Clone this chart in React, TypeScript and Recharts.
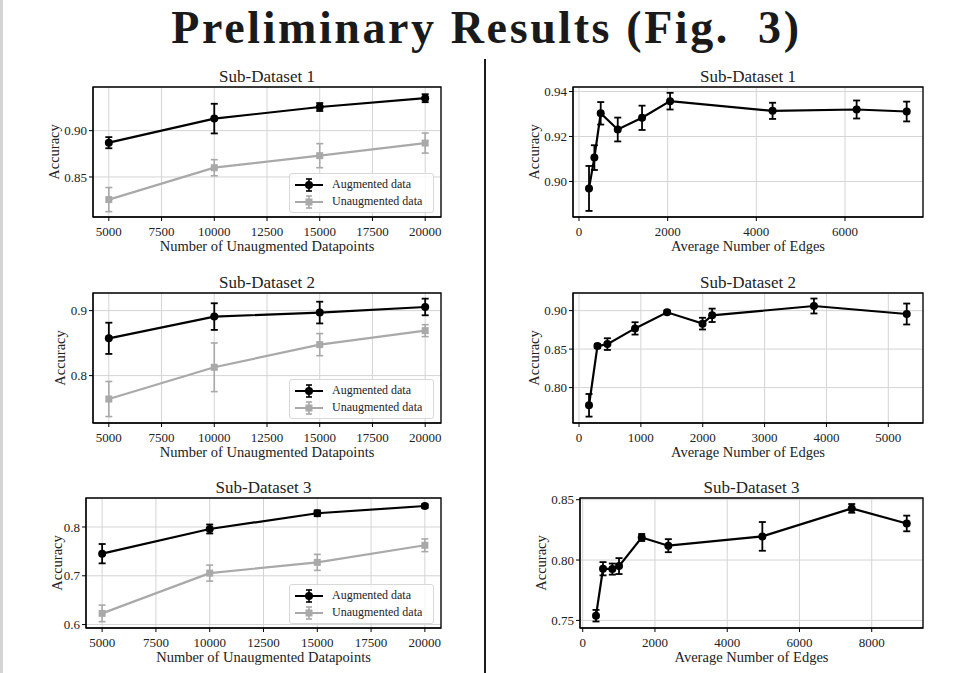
import React from 'react';
import {
  ComposedChart,
  Line,
  XAxis,
  YAxis,
  CartesianGrid,
  ErrorBar,
  ReferenceArea,
  Legend,
} from 'recharts';

// left column: accuracy vs. number of unaugmented datapoints
const sizes = [5000, 10000, 15000, 20000];
const sizeTicks = [5000, 7500, 10000, 12500, 15000, 17500, 20000];

const aug1 = [0.887, 0.913, 0.9255, 0.935];
const aug1Err = [0.006, 0.016, 0.0043, 0.0043];
const unaug1 = [0.8256, 0.86, 0.873, 0.8866];
const unaug1Err = [0.013, 0.0087, 0.013, 0.0108];

const aug2 = [0.8574, 0.8908, 0.897, 0.9056];
const aug2Err = [0.024, 0.0205, 0.0167, 0.0128];
const unaug2 = [0.764, 0.8128, 0.8477, 0.8692];
const unaug2Err = [0.027, 0.0374, 0.017, 0.0092];

const aug3 = [0.7453, 0.7959, 0.8281, 0.843];
const aug3Err = [0.0198, 0.0092, 0.006, 0.004];
const unaug3 = [0.623, 0.7055, 0.7275, 0.7625];
const unaug3Err = [0.017, 0.0164, 0.0164, 0.013];

// right column: accuracy vs. average number of edges
const edges1 = [226, 347, 490, 874, 1422, 2054, 4366, 6262, 7391];
const acc1 = [0.8969, 0.9106, 0.9303, 0.9231, 0.9283, 0.9357, 0.9314, 0.932, 0.9311];
const acc1Err = [0.01, 0.0055, 0.005, 0.0053, 0.0054, 0.0037, 0.0036, 0.004, 0.0044];

const edges2 = [162, 298, 459, 906, 1424, 1997, 2152, 3798, 5298];
const acc2 = [0.777, 0.8539, 0.8565, 0.8769, 0.8978, 0.8831, 0.8939, 0.906, 0.8956];
const acc2Err = [0.0147, 0.0026, 0.0076, 0.008, 0.0024, 0.0076, 0.0087, 0.0097, 0.0136];

const edges3 = [368, 562, 820, 1005, 1633, 2370, 4972, 7446, 8969];
const acc3 = [0.7539, 0.7928, 0.7925, 0.795, 0.8187, 0.8119, 0.8196, 0.8428, 0.8303];
const acc3Err = [0.0048, 0.0055, 0.0046, 0.0066, 0.0029, 0.0054, 0.0119, 0.0036, 0.0065];

const FONT = '"Liberation Serif", "DejaVu Serif", serif';
const GRAY = '#a9a9a9';
const TEXT = '#222';

const YW = 60;
const XH = 42;
const MT = 12;
const MR = 4;

type Row = Record<string, number>;

const sizeRows = (a: number[], ae: number[], u: number[], ue: number[]): Row[] =>
  sizes.map((s, i) => ({ x: s, aug: a[i], augErr: ae[i], unaug: u[i], unaugErr: ue[i] }));

const edgeRows = (e: number[], a: number[], ae: number[]): Row[] =>
  e.map((v, i) => ({ x: v, acc: a[i], accErr: ae[i] }));

function LegendBox() {
  const row = (gray: boolean, label: string) => {
    const c = gray ? GRAY : '#000';
    return (
      <div style={{ display: 'flex', alignItems: 'center', height: 17 }}>
        <svg width={30} height={14} style={{ marginRight: 8 }}>
          <line x1={1} x2={29} y1={7} y2={7} stroke={c} strokeWidth={2} />
          <line x1={15} x2={15} y1={1} y2={13} stroke={c} strokeWidth={1.6} />
          <line x1={12} x2={18} y1={1} y2={1} stroke={c} strokeWidth={1.6} />
          <line x1={12} x2={18} y1={13} y2={13} stroke={c} strokeWidth={1.6} />
          {gray ? (
            <rect x={11.5} y={3.5} width={7} height={7} fill={c} />
          ) : (
            <circle cx={15} cy={7} r={4} fill={c} />
          )}
        </svg>
        <span style={{ fontSize: 12, color: TEXT, fontFamily: FONT }}>{label}</span>
      </div>
    );
  };
  return (
    <div
      style={{
        width: 139,
        height: 36,
        border: '1px solid #d8d8d8',
        borderRadius: 3,
        background: 'rgba(255,255,255,0.8)',
        padding: '2px 0 0 4px',
      }}
    >
      {row(false, 'Augmented data')}
      {row(true, 'Unaugmented data')}
    </div>
  );
}

interface PanelProps {
  x: number;
  y: number;
  w: number;
  h: number;
  data: Row[];
  xDomain: [number, number];
  yDomain: [number, number];
  xTicks: number[];
  yTicks: number[];
  yDec: number;
  title: string;
  xLabel: string;
  yLabelGap: number;
  twoSeries: boolean;
}

function Panel(p: PanelProps) {
  const tick = { fill: TEXT, fontSize: 13, fontFamily: FONT };
  return (
    <>
      <div
        style={{
          position: 'absolute',
          left: p.x,
          width: p.w,
          top: p.y - 20,
          lineHeight: '20px',
          textAlign: 'center',
          fontSize: 17,
          fontFamily: FONT,
          color: TEXT,
          zIndex: 1,
        }}
      >
        {p.title}
      </div>
      <div style={{ position: 'absolute', left: p.x - YW, top: p.y - MT }}>
        <ComposedChart
          width={YW + p.w + MR}
          height={MT + p.h + XH}
          data={p.data}
          margin={{ top: MT, right: MR, left: 0, bottom: 0 }}
        >
          <CartesianGrid stroke="#d4d4d4" strokeWidth={1} />
          <XAxis
            dataKey="x"
            type="number"
            domain={p.xDomain}
            allowDataOverflow
            ticks={p.xTicks}
            interval={0}
            height={XH}
            tick={tick}
            tickSize={4}
            tickMargin={6}
            tickLine={{ stroke: '#000' }}
            axisLine={{ stroke: '#000' }}
            label={{
              value: p.xLabel,
              position: 'insideBottom',
              offset: 8,
              fill: TEXT,
              fontSize: 14.5,
              fontFamily: FONT,
            }}
          />
          <YAxis
            type="number"
            domain={p.yDomain}
            allowDataOverflow
            ticks={p.yTicks}
            interval={0}
            width={YW}
            tick={tick}
            tickSize={4}
            tickMargin={2}
            tickLine={{ stroke: '#000' }}
            axisLine={{ stroke: '#000' }}
            tickFormatter={(v: number) => v.toFixed(p.yDec)}
            label={{
              value: 'Accuracy',
              angle: -90,
              position: 'insideLeft',
              offset: YW - p.yLabelGap,
              style: { textAnchor: 'middle' },
              fill: TEXT,
              fontSize: 14.5,
              fontFamily: FONT,
            }}
          />
          {p.twoSeries && (
            <Line
              dataKey="unaug"
              stroke={GRAY}
              strokeWidth={2.2}
              isAnimationActive={false}
              dot={(d: any) => (
                <rect key={`s${d.index}`} x={d.cx - 3.5} y={d.cy - 3.5} width={7} height={7} fill={GRAY} />
              )}
            >
              <ErrorBar dataKey="unaugErr" width={3.5} strokeWidth={1.6} stroke={GRAY} direction="y" />
            </Line>
          )}
          <Line
            dataKey={p.twoSeries ? 'aug' : 'acc'}
            stroke="#000"
            strokeWidth={2.2}
            isAnimationActive={false}
            dot={{ r: 4, fill: '#000', stroke: '#000', strokeWidth: 0 }}
          >
            <ErrorBar
              dataKey={p.twoSeries ? 'augErr' : 'accErr'}
              width={3.5}
              strokeWidth={1.8}
              stroke="#000"
              direction="y"
            />
          </Line>
          <ReferenceArea
            x1={p.xDomain[0]}
            x2={p.xDomain[1]}
            y1={p.yDomain[0]}
            y2={p.yDomain[1]}
            fill="none"
            fillOpacity={0}
            stroke="#000"
            strokeWidth={1.3}
          />
          {p.twoSeries && (
            <Legend
              layout="vertical"
              align="center"
              verticalAlign="middle"
              content={() => <LegendBox />}
              wrapperStyle={{ position: 'absolute', left: YW + p.w - 152, top: MT + 86, width: 146, height: 40 }}
            />
          )}
        </ComposedChart>
      </div>
    </>
  );
}

export default function App() {
  const sizeDomain: [number, number] = [4250, 20750];
  return (
    <div
      style={{
        position: 'fixed',
        left: 0,
        top: 0,
        width: 961,
        height: 673,
        background: '#fff',
        overflow: 'hidden',
        fontFamily: FONT,
      }}
    >
      <div style={{ position: 'absolute', left: 0, top: 0, width: 3, height: 673, background: '#d4d4d4' }} />
      <div
        style={{
          position: 'absolute',
          left: 6,
          top: 1.5,
          width: 961,
          textAlign: 'center',
          fontSize: 46,
          lineHeight: '51px',
          fontWeight: 'bold',
          letterSpacing: 2.6,
          color: '#1a1a1a',
          fontFamily: FONT,
        }}
      >
        Preliminary Results (Fig.&nbsp; 3)
      </div>
      <div style={{ position: 'absolute', left: 484, top: 59, width: 2, height: 614, background: '#1a1a1a' }} />

      <Panel
        x={93} y={87} w={348} h={130}
        data={sizeRows(aug1, aug1Err, unaug1, unaug1Err)}
        xDomain={sizeDomain} yDomain={[0.8068, 0.9471]}
        xTicks={sizeTicks} yTicks={[0.85, 0.9]} yDec={2}
        title="Sub-Dataset 1" xLabel="Number of Unaugmented Datapoints"
        yLabelGap={39} twoSeries
      />
      <Panel
        x={573} y={87} w={350} h={130}
        data={edgeRows(edges1, acc1, acc1Err)}
        xDomain={[-135, 7759]} yDomain={[0.8842, 0.942]}
        xTicks={[0, 2000, 4000, 6000]} yTicks={[0.9, 0.92, 0.94]} yDec={2}
        title="Sub-Dataset 1" xLabel="Average Number of Edges"
        yLabelGap={39} twoSeries={false}
      />
      <Panel
        x={93} y={293} w={348} h={130}
        data={sizeRows(aug2, aug2Err, unaug2, unaug2Err)}
        xDomain={sizeDomain} yDomain={[0.7271, 0.9271]}
        xTicks={sizeTicks} yTicks={[0.8, 0.9]} yDec={1}
        title="Sub-Dataset 2" xLabel="Number of Unaugmented Datapoints"
        yLabelGap={33} twoSeries
      />
      <Panel
        x={573} y={293} w={350} h={130}
        data={edgeRows(edges2, acc2, acc2Err)}
        xDomain={[-97, 5561]} yDomain={[0.754, 0.9229]}
        xTicks={[0, 1000, 2000, 3000, 4000, 5000]} yTicks={[0.8, 0.85, 0.9]} yDec={2}
        title="Sub-Dataset 2" xLabel="Average Number of Edges"
        yLabelGap={39} twoSeries={false}
      />
      <Panel
        x={86} y={498} w={355} h={130}
        data={sizeRows(aug3, aug3Err, unaug3, unaug3Err)}
        xDomain={sizeDomain} yDomain={[0.593, 0.8594]}
        xTicks={sizeTicks} yTicks={[0.6, 0.7, 0.8]} yDec={1}
        title="Sub-Dataset 3" xLabel="Number of Unaugmented Datapoints"
        yLabelGap={29} twoSeries
      />
      <Panel
        x={580} y={498} w={343} h={130}
        data={edgeRows(edges3, acc3, acc3Err)}
        xDomain={[-75, 9419]} yDomain={[0.7437, 0.8514]}
        xTicks={[0, 2000, 4000, 6000, 8000]} yTicks={[0.75, 0.8, 0.85]} yDec={2}
        title="Sub-Dataset 3" xLabel="Average Number of Edges"
        yLabelGap={39} twoSeries={false}
      />
    </div>
  );
}
